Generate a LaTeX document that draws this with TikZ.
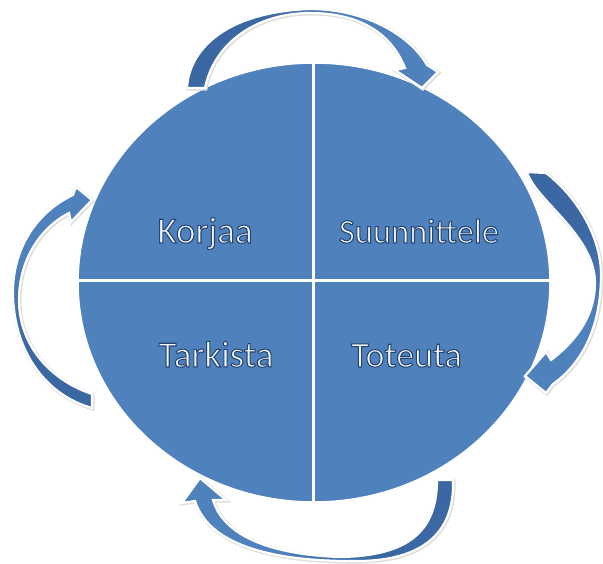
\documentclass[tikz,border=0pt]{standalone}
\usepackage{fontspec}
\setmainfont{Carlito}
\definecolor{circfill}{HTML}{4F81BD}
\definecolor{arrdark}{HTML}{3B67A3}
\definecolor{arrlight}{HTML}{4F81BD}
\definecolor{txtfill}{HTML}{F3F5F8}
\pgfdeclarehorizontalshading{arrowshade}{100bp}{color(0bp)=(arrdark); color(38bp)=(arrdark); color(58bp)=(arrlight); color(100bp)=(arrlight)}
\newcommand{\glowtext}[1]{\textcolor{txtfill}{\special{pdf:literal direct 2 Tr 1.05 w 0.14 0.27 0.45 RG}#1\special{pdf:literal direct 0 Tr}}}
\begin{document}
\begin{tikzpicture}[x=1pt,y=-1pt,
  arrowshape/.style={draw=white, line width=2.2pt, line join=miter, shading=arrowshade,
    preaction={draw=black!13, line width=3.4pt, transform canvas={shift={(0.8pt,-0.8pt)}}}},
  divider/.style={draw=white, line width=3pt},
  label/.style={anchor=base, inner sep=0pt}]
\useasboundingbox (0,0) rectangle (603,563);
% circle
\fill[circfill] (314,282.5) ellipse [x radius=236pt, y radius=219.5pt];
\begin{scope}
  \clip (314,282.5) ellipse [x radius=236pt, y radius=219.5pt];
  \draw[divider] (313.5,50) -- (313.5,515);
  \draw[divider] (60,280) -- (570,280);
\end{scope}
\draw[white, line width=1.5pt] (314,282.5) ellipse [x radius=236pt, y radius=219.5pt];
% top arrow
\path[arrowshape, shading angle=0] (187,88) .. controls (189,50) and (225,12) .. (310,9)
  .. controls (365,9) and (410,35) .. (427,65) -- (438,72) -- (422,88) -- (395,70) -- (405,68)
  .. controls (390,30) and (355,13) .. (310,13) .. controls (260,13) and (215,40) .. (205,88) -- cycle;
% right arrow
\path[arrowshape, shading angle=-90] (527,172) -- (546,173) .. controls (575,195) and (601,235) .. (601,275)
  .. controls (601,330) and (580,365) .. (553,384) -- (546,393) -- (525,376) -- (546,352) -- (551,360)
  .. controls (580,338) and (595,312) .. (595,283) .. controls (595,235) and (535,200) .. (527,172) -- cycle;
% bottom arrow
\path[arrowshape, shading angle=180] (437,480) -- (453,480) .. controls (455,535) and (420,560) .. (360,561)
  .. controls (280,562) and (210,548) .. (195,501) -- (182,503) -- (200,478) -- (226,500) -- (213,500)
  .. controls (225,540) and (280,555) .. (340,557) .. controls (410,556) and (437,530) .. (437,480) -- cycle;
% left arrow
\path[arrowshape, shading angle=90] (92,408) .. controls (45,395) and (13,350) .. (13,292)
  .. controls (13,250) and (35,213) .. (73,195) -- (76,187) -- (92,200) -- (71,222) -- (69,213)
  .. controls (40,228) and (19,260) .. (19,300) .. controls (19,345) and (50,380) .. (92,394) -- cycle;
% labels
\node[label, font=\fontsize{37}{40}\selectfont] (korjaa) at (205,243) {\glowtext{Korjaa}};
\node[label, font=\fontsize{34.5}{40}\selectfont] (suunnittele) at (419,243) {\glowtext{Suunnittele}};
\node[label, font=\fontsize{37}{40}\selectfont] (tarkista) at (216,367) {\glowtext{Tarkista}};
\node[label, font=\fontsize{36}{40}\selectfont] (toteuta) at (406.5,367) {\glowtext{Toteuta}};
\end{tikzpicture}
\end{document}
